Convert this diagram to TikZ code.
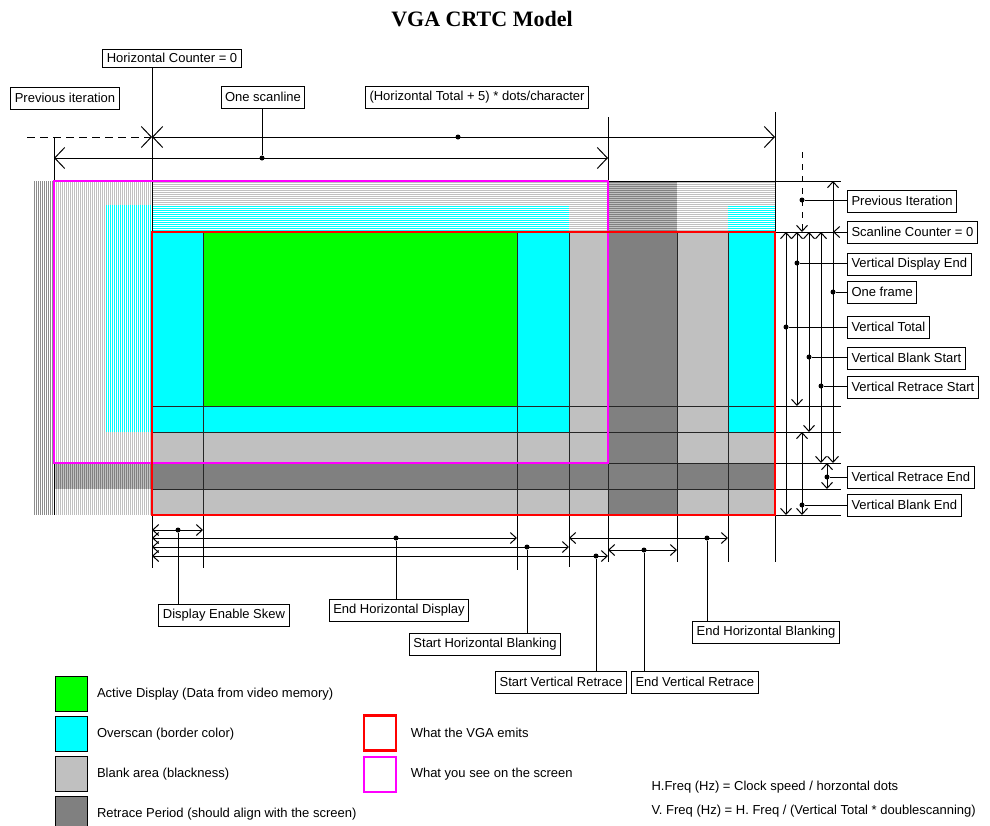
\documentclass[tikz,border=0pt]{standalone}
\usepackage{fontspec}
\setmainfont{Liberation Serif}
\newfontfamily\lblfont{Liberation Sans}
\usetikzlibrary{positioning,arrows.meta}
\definecolor{vgagreen}{HTML}{00FF00}
\definecolor{vgacyan}{HTML}{00FFFF}
\definecolor{vgablank}{HTML}{C0C0C0}
\definecolor{vgaretr}{HTML}{808080}
\definecolor{vgared}{HTML}{FF0000}
\definecolor{vgamag}{HTML}{FF00FF}
% striped areas: x1 y1 x2 y2 stripe colour, back colour
\newcommand\vstripes[6]{%
  \fill[#6] (#1,#2) rectangle (#3,#4);
  \foreach \sx in {#1,...,#3}{%
    \ifnum\sx<#3 \ifodd\sx\else\draw[#5] (\sx+0.5,#2) -- (\sx+0.5,#4);\fi\fi}}
\newcommand\hstripes[6]{%
  \fill[#6] (#1,#2) rectangle (#3,#4);
  \foreach \sy in {#2,...,#4}{%
    \ifnum\sy<#4 \ifodd\sy\else\draw[#5] (#1,\sy+0.5) -- (#3,\sy+0.5);\fi\fi}}

\begin{document}
\begin{tikzpicture}[x=1pt,y=-1pt,line width=1pt,>={Straight Barb[length=6pt,width=11pt]},
  bigarr/.style={>={Straight Barb[length=10pt,width=21pt]}},
  lbl/.style={draw,fill=white,font=\lblfont\fontsize{13}{15}\selectfont,inner xsep=4pt,inner ysep=0pt,minimum height=22pt},
  txt/.style={font=\lblfont\fontsize{13}{15}\selectfont,inner sep=0pt},
  dot/.style={circle,fill,inner sep=0pt,minimum size=5pt},
  sq/.style={draw,minimum width=32pt,minimum height=35pt,inner sep=0pt},
  cell/.style={black!85}]
\useasboundingbox (0,0) rectangle (990,825);

\node (title) at (482,19) {\bfseries\fontsize{22}{26}\selectfont VGA CRTC Model};

% previous iteration (striped)
\vstripes{33}{181}{54}{515}{black!45}{white}
\vstripes{54}{181}{152}{463}{vgablank}{white}
\vstripes{106}{205}{152}{432}{vgacyan}{white}
\vstripes{54}{463}{152}{489}{vgaretr}{vgablank}
\vstripes{54}{489}{152}{515}{vgablank}{white}
\hstripes{152}{181}{608}{205}{vgablank}{white}
\hstripes{152}{205}{569}{232}{vgacyan}{white}
\hstripes{569}{205}{608}{232}{vgablank}{white}
\hstripes{608}{181}{677}{232}{vgaretr}{vgablank}
\hstripes{677}{181}{775}{232}{vgablank}{white}
\hstripes{728}{205}{775}{232}{vgacyan}{white}

% one frame
\fill[vgablank] (152,232) rectangle (775,515);
\fill[vgaretr] (608,232) rectangle (677,515);
\fill[vgaretr] (152,463) rectangle (775,489);
\fill[vgacyan] (152,232) rectangle (569,432);
\fill[vgacyan] (728,232) rectangle (775,432);
\fill[vgagreen] (203,232) rectangle (517,406);
\foreach \x in {203,517,569,608,677,728} \draw[cell] (\x,232) -- (\x,515);
\foreach \y in {406,432,463,489} \draw[cell] (152,\y) -- (775,\y);

% labels
\node[lbl,minimum height=18pt] (hc) at (172,58) {Horizontal Counter = 0};
\node[lbl] (pv) at (65,98) {Previous iteration};
\node[lbl] (sl) at (263,97) {One scanline};
\node[lbl] (ht) at (477,97) {(Horizontal Total + 5) * dots/character};

\node[lbl,anchor=west] (rp) at (847,201) {Previous Iteration};
\node[lbl,anchor=west] (sc) at (847,232) {Scanline Counter = 0};
\node[lbl,anchor=west] (vde) at (847,264) {Vertical Display End};
\node[lbl,anchor=west] (of) at (847,292) {One frame};
\node[lbl,anchor=west] (vt) at (847,327) {Vertical Total};
\node[lbl,anchor=west] (vbs) at (847,358) {Vertical Blank Start};
\node[lbl,anchor=west] (vrs) at (847,387) {Vertical Retrace Start};
\node[lbl,anchor=west] (vre) at (847,477) {Vertical Retrace End};
\node[lbl,anchor=west] (vbe) at (847,505) {Vertical Blank End};

\node[lbl] (des) at (224,615) {Display Enable Skew};
\node[lbl] (ehd) at (399,610) {End Horizontal Display};
\node[lbl] (shb) at (485,644) {Start Horizontal Blanking};
\node[lbl,anchor=east] (svr) at (627,682) {Start Vertical Retrace};
\node[lbl,anchor=west] (evr) at (631,682) {End Vertical Retrace};
\node[lbl] (ehb) at (766,632) {End Horizontal Blanking};

% extension lines
\coordinate (hz) at (152,137);
\coordinate (sct) at (833,232);
\draw (54,137) -- (54,515);
\draw (hz |- hc.south) -- (152,568);
\draw (608,117) -- (608,181);
\draw (775,112) -- (775,232);
\draw (608,181) -- (841,181);
\draw (775,232) -- (841,232);
\foreach \y in {406,432,463,489,515} \draw (775,\y) -- (841,\y);
\foreach \x/\e in {203/568,517/570,569/567,608/562,677/562,728/562,775/562} \draw (\x,515) -- (\x,\e);

\draw[vgamag,line width=2pt] (54,181) rectangle (608,463);
\draw[vgared,line width=2pt] (152,232) rectangle (775,515);

% horizontal dimensions
\draw[bigarr,->,dash pattern=on 8pt off 5pt] (27,137) -- (hz);
\draw[bigarr,<->] (hz) -- (775,137);
\draw[bigarr,<->] (54,158) -- (608,158);
\draw[<->] (152,530) -- (203,530);
\draw[<->] (152,538) -- (517,538);
\draw[<->] (152,547) -- (569,547);
\draw[<->] (152,556) -- (608,556);
\draw[<->] (569,538) -- (728,538);
\draw[<->] (608,550) -- (677,550);

% vertical dimensions
\draw[->,dash pattern=on 6pt off 6pt] (802,152) -- (802,232);
\draw[<->] (786,232) -- (786,515);
\draw[<->] (797,232) -- (797,406);
\draw[<->] (802,432) -- (802,515);
\draw[<->] (809,232) -- (809,432);
\draw[<->] (821,232) -- (821,463);
\draw[<->] (827,463) -- (827,489);
\draw[<->] (833,181) -- (833,463);

% dots and leaders
\node[dot] (d1) at (262,158) {};
\node[dot] (d2) at (458,137) {};
\draw (d1) -- (d1 |- sl.south);

\node[dot] (r1) at (802,200) {};
\node[dot] (r2) at (797,263) {};
\node[dot] (r3) at (833,292) {};
\node[dot] (r4) at (786,327) {};
\node[dot] (r5) at (809,357) {};
\node[dot] (r6) at (821,386) {};
\node[dot] (r7) at (827,477) {};
\node[dot] (r8) at (802,505) {};
\draw (r1) -- (r1 -| rp.west);
\draw[->] (sc.west) -- (sct);
\draw (r2) -- (r2 -| vde.west);
\draw (r3) -- (r3 -| of.west);
\draw (r4) -- (r4 -| vt.west);
\draw (r5) -- (r5 -| vbs.west);
\draw (r6) -- (r6 -| vrs.west);
\draw (r7) -- (r7 -| vre.west);
\draw (r8) -- (r8 -| vbe.west);

\node[dot] (b1) at (178,530) {};
\node[dot] (b2) at (396,538) {};
\node[dot] (b3) at (527,547) {};
\node[dot] (b4) at (596,556) {};
\node[dot] (b5) at (707,538) {};
\node[dot] (b6) at (644,550) {};
\draw (b1) -- (b1 |- des.north);
\draw (b2) -- (b2 |- ehd.north);
\draw (b3) -- (b3 |- shb.north);
\draw (b4) -- (b4 |- svr.north);
\draw (b5) -- (b5 |- ehb.north);
\draw (b6) -- (b6 |- evr.north);

% legend
\node[sq,fill=vgagreen] (lg1) at (71,694) {};
\node[sq,fill=vgacyan,below=4pt of lg1] (lg2) {};
\node[sq,fill=vgablank,below=4pt of lg2] (lg3) {};
\node[sq,fill=vgaretr,below=4pt of lg3] (lg4) {};
\node[txt,right=9pt of lg1] (t1) {Active Display (Data from video memory)};
\node[txt,right=9pt of lg2] (t2) {Overscan (border color)};
\node[txt,right=9pt of lg3] (t3) {Blank area (blackness)};
\node[txt,right=9pt of lg4] (t4) {Retrace Period (should align with the screen)};
\node[sq,draw=vgared,line width=2.5pt] (lr) at (380,733) {};
\node[sq,draw=vgamag,line width=2.5pt,below=4pt of lr] (lm) {};
\node[txt,right=13pt of lr] (t5) {What the VGA emits};
\node[txt,right=13pt of lm] (t6) {What you see on the screen};

\node[txt,anchor=west] (hf) at (651,787) {H.Freq (Hz) = Clock speed / horzontal dots};
\node[txt,anchor=west] (vf) at (651,811) {V. Freq (Hz) = H. Freq / (Vertical Total * doublescanning)};
\end{tikzpicture}
\end{document}
